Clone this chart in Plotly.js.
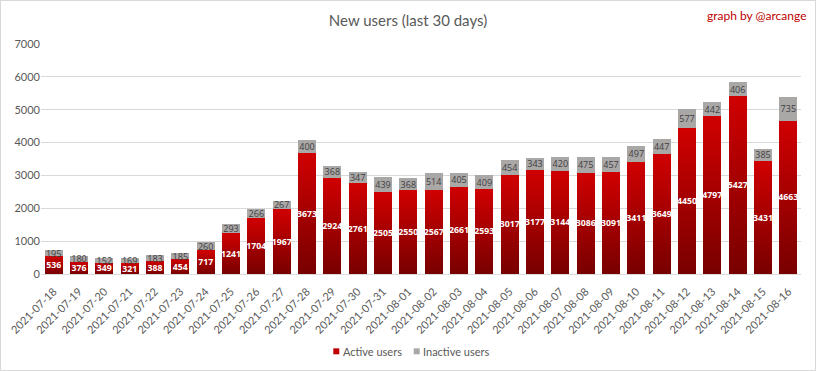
<!DOCTYPE html>
<html>
<head>
<meta charset="utf-8">
<script src="https://cdn.plot.ly/plotly-3.0.1.min.js"></script>
<style>
  html, body { margin: 0; padding: 0; background: #fff; }
  #wrap { position: relative; width: 816px; height: 371px; }
  #chart { width: 816px; height: 371px; }
  #frame { position: absolute; left: 0; top: 0; width: 816px; height: 371px; box-sizing: border-box; border: 1px solid #d9d9d9; pointer-events: none; }
</style>
</head>
<body>
<div id="wrap"><div id="chart"></div><div id="frame"></div></div>
<script>
const dates = ["2021-07-18","2021-07-19","2021-07-20","2021-07-21","2021-07-22","2021-07-23","2021-07-24","2021-07-25","2021-07-26","2021-07-27","2021-07-28","2021-07-29","2021-07-30","2021-07-31","2021-08-01","2021-08-02","2021-08-03","2021-08-04","2021-08-05","2021-08-06","2021-08-07","2021-08-08","2021-08-09","2021-08-10","2021-08-11","2021-08-12","2021-08-13","2021-08-14","2021-08-15","2021-08-16"];
const activeUsers = [536,376,349,321,388,454,717,1241,1704,1967,3673,2924,2761,2505,2550,2567,2661,2593,3017,3177,3144,3086,3091,3411,3649,4450,4797,5427,3431,4663];
const inactiveUsers = [195,180,152,169,183,185,260,293,266,267,400,368,347,439,368,514,405,409,454,343,420,475,457,497,447,577,442,406,385,735];
const yTicks = [0,1000,2000,3000,4000,5000,6000,7000];
const seriesNames = ['Active users', 'Inactive users'];

const FONT = "Lato, 'Open Sans', sans-serif";
const LABELFONT = "'Liberation Sans Narrow', 'Open Sans', sans-serif";

const traces = [
  {
    type: 'bar', name: seriesNames[0], x: dates, y: activeUsers,
    text: activeUsers.map(String), textposition: 'inside', insidetextanchor: 'middle',
    constraintext: 'none', textangle: 0,
    textfont: {family: LABELFONT, size: 11, color: '#ffffff', weight: 'bold'},
    marker: {color: '#c00000', line: {width: 0}},
    hoverinfo: 'none', showlegend: false
  },
  {
    type: 'bar', name: seriesNames[1], x: dates, y: inactiveUsers,
    text: inactiveUsers.map(String), textposition: 'inside', insidetextanchor: 'middle',
    constraintext: 'none', textangle: 0,
    textfont: {family: LABELFONT, size: 11, color: '#404040'},
    marker: {color: '#aaa7a7', line: {width: 0}},
    hoverinfo: 'none', showlegend: false
  }
];

const layout = {
  width: 816, height: 371,
  margin: {l: 41, r: 15, t: 44, b: 96.5, autoexpand: false},
  paper_bgcolor: '#ffffff', plot_bgcolor: '#ffffff',
  barmode: 'stack', bargap: 0.28,
  font: {family: FONT, size: 11, color: '#595959'},
  title: {text: 'New users (last 30 days)', x: 0.5, xanchor: 'center', y: 0.945, yanchor: 'middle',
          font: {family: FONT, size: 15, color: '#595959'}},
  xaxis: {type: 'category', tickangle: -45, showgrid: false, zeroline: false, automargin: false,
          showline: true, linecolor: '#d9d9d9', linewidth: 1,
          ticks: 'outside', ticklen: 6, tickcolor: 'rgba(0,0,0,0)',
          tickfont: {family: FONT, size: 11, color: '#595959'}, fixedrange: true},
  yaxis: {range: [0, 7000], tickvals: yTicks, ticktext: yTicks.map(String), automargin: false,
          showgrid: true, gridcolor: '#d9d9d9', gridwidth: 1, zeroline: false,
          showline: false, ticks: '', ticklen: 0,
          tickfont: {family: FONT, size: 11, color: '#595959'}, fixedrange: true},
  showlegend: false,
  shapes: [
    {type: 'rect', xref: 'paper', yref: 'paper', x0: 0.3846, x1: 0.3925, y0: -0.3492, y1: -0.3232,
     fillcolor: '#c00000', line: {width: 0}, layer: 'above'},
    {type: 'rect', xref: 'paper', yref: 'paper', x0: 0.4904, x1: 0.4983, y0: -0.3492, y1: -0.3232,
     fillcolor: '#aaa7a7', line: {width: 0}, layer: 'above'}
  ],
  annotations: [
    {text: 'graph by @arcange', xref: 'paper', yref: 'paper', x: 1.01, xanchor: 'right',
     y: 1.125, yanchor: 'middle', showarrow: false,
     font: {family: FONT, size: 12, color: '#c00000'}},
    {text: seriesNames[0], xref: 'paper', yref: 'paper', x: 0.3945, xanchor: 'left',
     y: -0.3362, yanchor: 'middle', showarrow: false,
     font: {family: FONT, size: 11, color: '#595959'}},
    {text: seriesNames[1], xref: 'paper', yref: 'paper', x: 0.5003, xanchor: 'left',
     y: -0.3362, yanchor: 'middle', showarrow: false,
     font: {family: FONT, size: 11, color: '#595959'}}
  ],
  hovermode: false
};

function applyGradient(gd) {
  const svg = gd.querySelector('.main-svg');
  const NS = 'http://www.w3.org/2000/svg';
  let defs = svg.querySelector('defs');
  if (!defs) { defs = document.createElementNS(NS, 'defs'); svg.insertBefore(defs, svg.firstChild); }
  if (!svg.querySelector('#redgrad')) {
    const g = document.createElementNS(NS, 'linearGradient');
    g.setAttribute('id', 'redgrad');
    g.setAttribute('x1', '0'); g.setAttribute('y1', '0'); g.setAttribute('x2', '0'); g.setAttribute('y2', '1');
    const s1 = document.createElementNS(NS, 'stop'); s1.setAttribute('offset', '0'); s1.setAttribute('stop-color', '#d00000');
    const s2 = document.createElementNS(NS, 'stop'); s2.setAttribute('offset', '1'); s2.setAttribute('stop-color', '#780000');
    g.appendChild(s1); g.appendChild(s2); defs.appendChild(g);
  }
  const barTraces = gd.querySelectorAll('.barlayer .trace');
  if (barTraces.length) {
    barTraces[0].querySelectorAll('.point path').forEach(function (p) { p.style.fill = 'url(#redgrad)'; });
  }
}

function labelWidth(gd, traceIdx, pointIdx) {
  const tr = gd.querySelectorAll('.barlayer .trace')[traceIdx];
  const pts = tr.querySelectorAll('.point');
  const t = pts[pointIdx] && pts[pointIdx].querySelector('text');
  return t ? t.getBBox().width : 0;
}

Plotly.newPlot('chart', traces, layout, {displayModeBar: false, staticPlot: true}).then(function (gd) {
  // scale the in-bar label fonts so their widths match the reference (4 digits ~20px, 3 digits ~15.5px)
  const wa = labelWidth(gd, 0, 21);   // "3086"
  const wi = labelWidth(gd, 1, 10);   // "400"
  const sa = wa > 0 ? Math.max(8, Math.min(13, 11 * 20 / wa)) : 11;
  const si = wi > 0 ? Math.max(8, Math.min(13, 11 * 15.5 / wi)) : 11;
  return Plotly.restyle(gd, {'textfont.size': [sa, si]}, [0, 1]);
}).then(function (gd) {
  applyGradient(gd);
});
</script>
</body>
</html>
